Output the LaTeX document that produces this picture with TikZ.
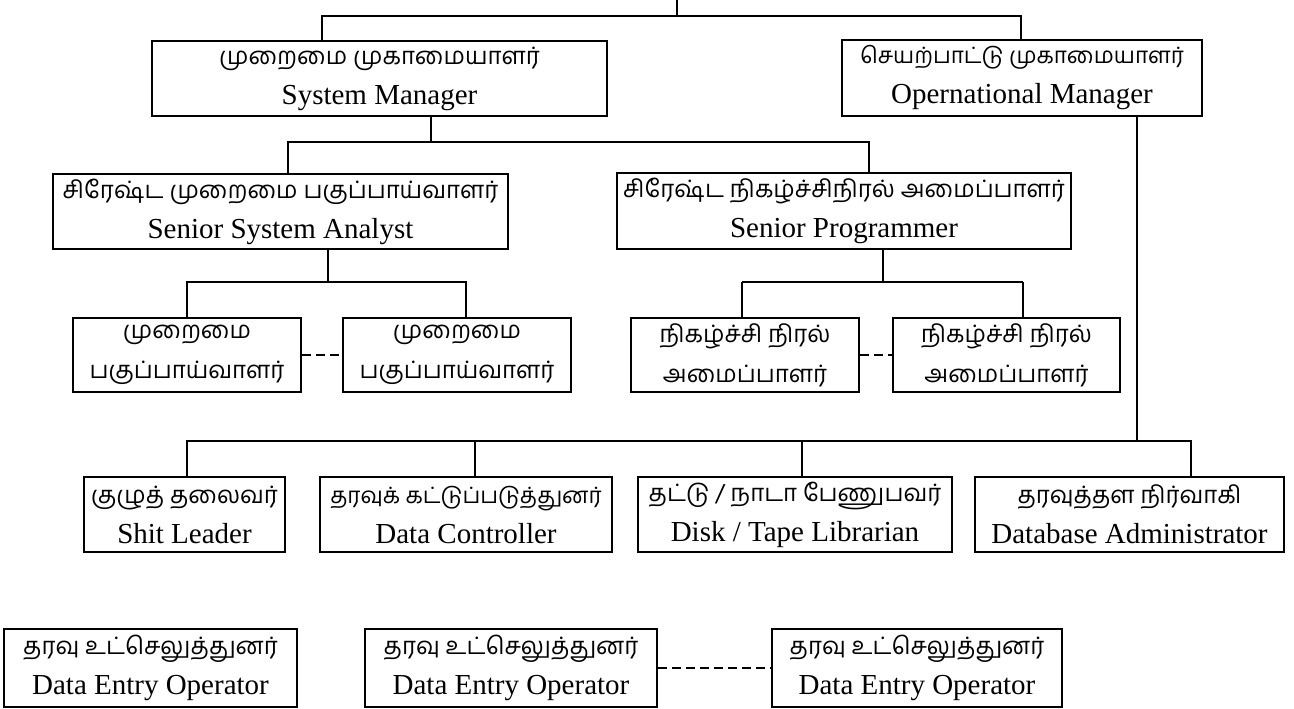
\documentclass[tikz,border=0pt]{standalone}
\usepackage{fontspec}
\setmainfont{Liberation Serif}
\newfontfamily\ta[Script=Tamil]{Hind Madurai}
\newcommand{\tl}[1]{{\ta\fontsize{24}{40}\selectfont #1}}
\newcommand{\tls}[1]{{\ta\fontsize{22.5}{40}\selectfont #1}}
\begin{document}
\begin{tikzpicture}[x=1pt,y=-1pt,
  bx/.style={draw, line width=1.6pt, inner sep=0pt, align=center, font=\fontsize{29}{40}\selectfont},
  ln/.style={line width=1.5pt},
  dl/.style={line width=2.6pt, dash pattern=on 9pt off 5pt}]
\useasboundingbox (0,0) rectangle (1294,709);
\fill[white] (0,0) rectangle (1294,709);

% level 1
\node[bx, minimum width=455, minimum height=75] (sm) at (379.5,78.5) {\tl{முறைமை முகாமையாளர்}\\System Manager};
\node[bx, minimum width=360, minimum height=76] (om) at (1022,78) {\tls{செயற்பாட்டு முகாமையாளர்}\\Opernational Manager};
% level 2
\node[bx, minimum width=455, minimum height=75] (ssa) at (280.5,211.5) {\tl{சிரேஷ்ட முறைமை பகுப்பாய்வாளர்}\\Senior System Analyst};
\node[bx, minimum width=454, minimum height=76] (sp) at (844,211) {\tl{சிரேஷ்ட நிகழ்ச்சிநிரல் அமைப்பாளர்}\\Senior Programmer};
% level 3
\node[bx, minimum width=228, minimum height=74] (sa1) at (187,355) {\tl{முறைமை}\\\tl{பகுப்பாய்வாளர்}};
\node[bx, minimum width=228, minimum height=74] (sa2) at (457,355) {\tl{முறைமை}\\\tl{பகுப்பாய்வாளர்}};
\node[bx, minimum width=228, minimum height=74] (p1) at (745,355) {\tl{நிகழ்ச்சி நிரல்}\\\tl{அமைப்பாளர்}};
\node[bx, minimum width=227, minimum height=74] (p2) at (1006.5,355) {\tl{நிகழ்ச்சி நிரல்}\\\tl{அமைப்பாளர்}};
% level 4
\node[bx, minimum width=201, minimum height=75] (sl) at (184.5,514.5) {\tl{குழுத் தலைவர்}\\Shit Leader};
\node[bx, minimum width=292, minimum height=75] (dc) at (466,514.5) {\tls{தரவுக் கட்டுப்படுத்துனர்}\\Data Controller};
\node[bx, minimum width=314, minimum height=75] (dt) at (795,514.5) {\tl{தட்டு / நாடா பேணுபவர்}\\Disk / Tape Librarian};
\node[bx, minimum width=309, minimum height=75] (db) at (1129.5,514.5) {\tl{தரவுத்தள நிர்வாகி}\\Database Administrator};
% level 5
\node[bx, minimum width=293, minimum height=78] (de1) at (150.5,668) {\tl{தரவு உட்செலுத்துனர்}\\Data Entry Operator};
\node[bx, minimum width=292, minimum height=78] (de2) at (511,668) {\tl{தரவு உட்செலுத்துனர்}\\Data Entry Operator};
\node[bx, minimum width=290, minimum height=78] (de3) at (917,668) {\tl{தரவு உட்செலுத்துனர்}\\Data Entry Operator};

% connectors
\coordinate (stub) at (677,0);
\coordinate (t1) at (322,16);
\coordinate (t2) at (1021,16);
\draw[ln] (t1 |- sm.north) -- (t1) -- (t2) -- (t2 |- om.north);
\draw[ln] (stub) -- (stub |- t1);

\coordinate (b1) at (431,142);
\coordinate (l1) at (288,142);
\coordinate (r1) at (869,142);
\draw[ln] (b1 |- sm.south) -- (b1);
\draw[ln] (l1 |- ssa.north) -- (l1) -- (r1) -- (r1 |- sp.north);

\coordinate (c1) at (328,282);
\draw[ln] (c1 |- ssa.south) -- (c1);
\draw[ln] (sa1.north) -- (sa1.north |- c1) -- (466,282) coordinate (c2) -- (c2 |- sa2.north);
\coordinate (c3) at (883,282);
\draw[ln] (c3 |- sp.south) -- (c3);
\draw[ln] (742,282) coordinate (c4) -- (1023,282) coordinate (c5);
\draw[ln] (c4) -- (c4 |- p1.north);
\draw[ln] (c5) -- (c5 |- p2.north);

\draw[dl] (sa1.east) -- (sa2.west);
\draw[dl] (p1.east) -- (p2.west);

\coordinate (d0) at (1137,441);
\draw[ln] (d0 |- om.south) -- (d0);
\coordinate (dL) at (187,441);
\coordinate (dR) at (1191,441);
\draw[ln] (dL |- sl.north) -- (dL) -- (dR) -- (dR |- db.north);
\coordinate (dC) at (475,441);
\coordinate (dD) at (802,441);
\draw[ln] (dC) -- (dC |- dc.north);
\draw[ln] (dD) -- (dD |- dt.north);

\draw[dl] (de2.east) -- (de3.west);
\end{tikzpicture}
\end{document}
